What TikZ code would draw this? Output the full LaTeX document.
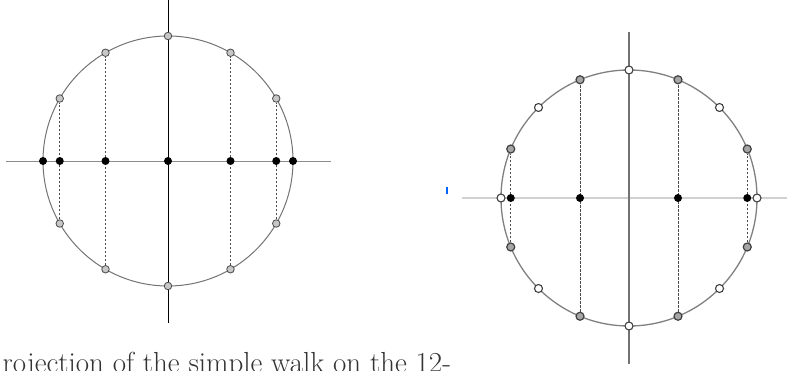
\documentclass[tikz,border=0pt]{standalone}
\usepackage{tikz}
\usetikzlibrary{
	arrows.meta,
	positioning,
	calc
}
\usepackage{xcolor}

\tikzset{
	gdot/.style={circle,draw=black!70,fill=black!22,line width=0.8pt,inner sep=0pt,minimum size=7.5pt},
	gdotR/.style={circle,draw=black!75,fill=black!35,line width=1.2pt,inner sep=0pt,minimum size=8pt},
	wdot/.style={circle,draw=black!75,fill=white,line width=1.1pt,inner sep=0pt,minimum size=8pt},
	bdot/.style={circle,fill=black,inner sep=0pt,minimum size=8pt},
	proj/.style={black!70,line width=0.6pt,dash pattern=on 2.5pt off 1.5pt}
}

\begin{document}
\begin{tikzpicture}[>=Stealth,x=1pt,y=-1pt]
			
			\useasboundingbox (0,0) rectangle (787,370);
			\clip (0,0) rectangle (787,370);
			
			% left: walk on the 12-cycle
			\coordinate (L) at (168,161);
			\coordinate (Lw) at (6,161);
			\coordinate (Le) at (331,161);
			\coordinate (Ln) at (168,0);
			\coordinate (Ls) at (168,323);
			
			\draw[black!45,line width=0.7pt] (Lw) -- (Le);
			\draw[black,line width=0.9pt] (Ln) -- (Ls);
			\draw[black!55,line width=1pt] (L) circle[radius=125pt];
			
			\foreach \k in {1,2,3,4,5,7,8,9,10,11}
				\node[gdot] (l\k) at ($(L)+(\k*30:125)$) {};
			\foreach \k/\j in {1/11,2/10,4/8,5/7}
				\draw[proj] (l\k) -- (l\j);
			\foreach \k in {0,...,6}
				\node[bdot] (lp\k) at ($(L)+({125*cos(\k*30)},0)$) {};
			
			% right: walk on the 16-cycle
			\coordinate (R) at (629,198);
			\coordinate (Rw) at (462,198);
			\coordinate (Re) at (787,198);
			\coordinate (Rn) at (629,32);
			\coordinate (Rs) at (629,364);
			
			\draw[black!18,line width=2.2pt] (Rw) -- (Re);
			\draw[black!55,line width=1.6pt] (Rn) -- (Rs);
			\draw[black!50,line width=1.3pt] (R) circle[radius=128pt];
			
			\foreach \k in {1,3,...,15}
				\node[gdotR] (r\k) at ($(R)+(\k*22.5:128)$) {};
			\foreach \k in {0,2,...,14}
				\node[wdot] (r\k) at ($(R)+(\k*22.5:128)$) {};
			\foreach \k/\j in {1/15,3/13,5/11,7/9}
				\draw[proj] (r\k) -- (r\j);
			\foreach \k in {1,3,5,7}
				\node[bdot] (rp\k) at ($(R)+({128*cos(\k*22.5)},0)$) {};
			
			\draw[blue!60!cyan,line width=1.5pt] (447,187) -- (447,194);
			
			\node[font=\fontsize{29}{32}\selectfont,text=black!80,anchor=base west] (cap) at (-1,372)
				{rojection of the simple walk on the 12-};
			
		\end{tikzpicture}
\end{document}
